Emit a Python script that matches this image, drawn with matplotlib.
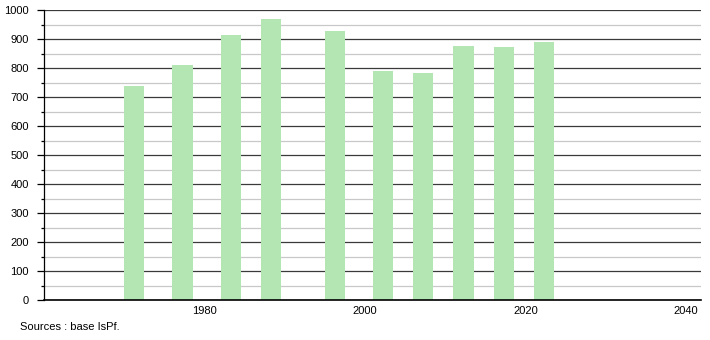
import matplotlib.pyplot as plt
from matplotlib.ticker import MultipleLocator

plt.rcParams["font.family"] = ["Liberation Sans Narrow", "Liberation Sans", "DejaVu Sans"]

years = [1971, 1977, 1983, 1988, 1996, 2002, 2007, 2012, 2017, 2022]
values = [739, 811, 915, 970, 929, 791, 784, 877, 871, 891]
xticks = [1980, 2000, 2020, 2040]

fig = plt.figure(figsize=(7.1, 3.4), dpi=100)
ax = fig.add_axes([44 / 710, 40 / 340, (700.7 - 44) / 710, 290 / 340])

# barres légèrement décalées par rapport à l'année (comme sur l'original)
ax.bar([y - 1 for y in years], values, width=2.5, align="edge",
       color="#b3e6b3", zorder=3)

ax.set_xlim(1960, 2041.8)
ax.set_ylim(0, 1000)
ax.set_xticks(xticks)
ax.yaxis.set_major_locator(MultipleLocator(100))
ax.yaxis.set_minor_locator(MultipleLocator(50))

ax.grid(axis="y", which="major", color="#3a3a3a", linewidth=0.9, zorder=1)
ax.grid(axis="y", which="minor", color="#c8c8c8", linewidth=0.9, zorder=1)

for side in ("top", "right"):
    ax.spines[side].set_visible(False)
ax.spines["left"].set_linewidth(0.9)
ax.spines["bottom"].set_linewidth(1.2)
ax.spines["bottom"].set_zorder(4)

ax.tick_params(axis="y", which="major", length=5, width=0.9, pad=6, labelsize=8)
ax.tick_params(axis="y", which="minor", length=2, width=0.9)
ax.tick_params(axis="x", length=0, pad=4, labelsize=8)

fig.text(20 / 710, 1 - 327 / 340, "Sources : base IsPf.", fontsize=8, va="center")

fig.savefig("out.png", dpi=100)
